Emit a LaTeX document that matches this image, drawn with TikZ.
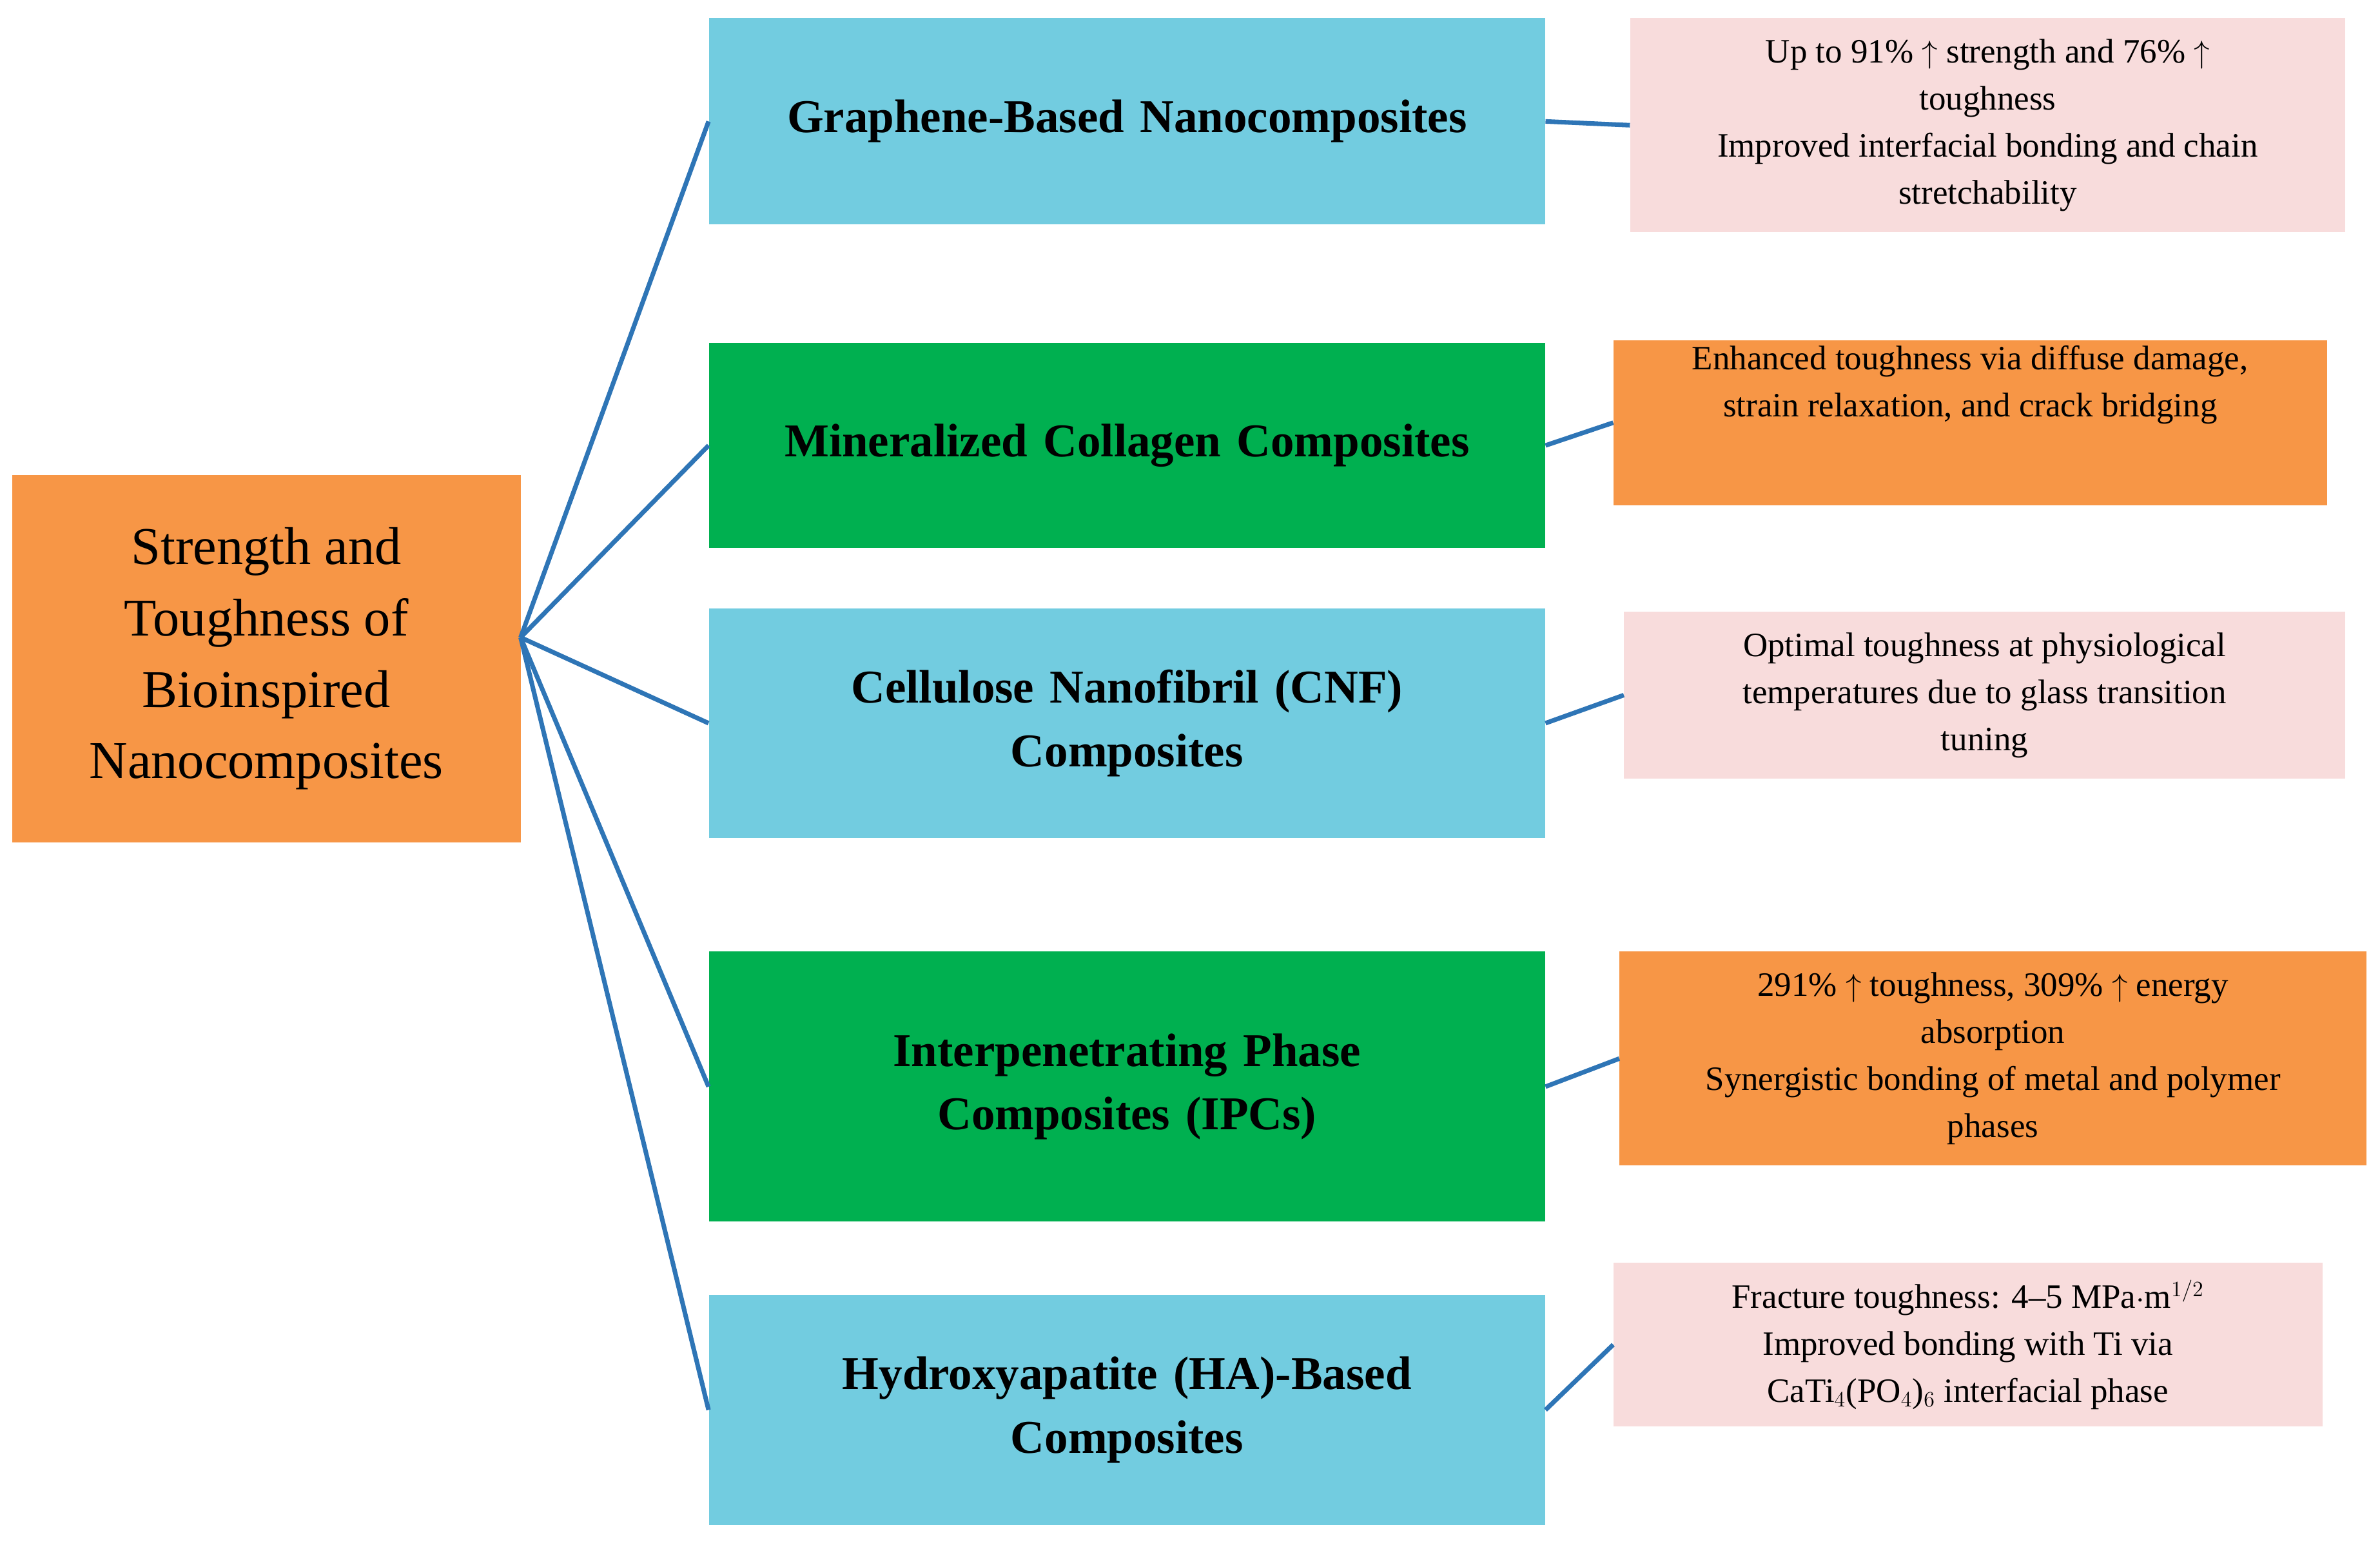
\documentclass[tikz,border=0pt]{standalone}
\usepackage{fontspec}
\setmainfont{Liberation Serif}
\definecolor{rootor}{HTML}{F79646}
\definecolor{cyanbox}{HTML}{72CCE0}
\definecolor{greenbox}{HTML}{00B050}
\definecolor{pinkbox}{HTML}{F8DCDC}
\definecolor{linkblue}{HTML}{2E75B6}
\begin{document}
\begin{tikzpicture}[x=1pt,y=-1pt,
      link/.style={draw=linkblue,line width=3pt},
      mid box/.style={minimum width=551pt,align=center,text width=520pt,
        font=\fontsize{31}{42}\selectfont\bfseries},
      note box/.style={align=center,font=\fontsize{22.5}{31}\selectfont}]
 \useasboundingbox (0,0) rectangle (1568,1018);
 \node[fill=rootor, minimum width=335pt, minimum height=242pt, align=center,
   font=\fontsize{35}{47}\selectfont] (root) at (175.5,434) {Strength and\\Toughness of\\Bioinspired\\Nanocomposites};
 \coordinate (hub) at (343,420);

 \node[mid box, fill=cyanbox, minimum height=136pt] (m1) at (742.5,80) {Graphene-Based Nanocomposites};
 \node[mid box, fill=greenbox, minimum height=135pt] (m2) at (742.5,293.5) {Mineralized Collagen Composites};
 \node[mid box, fill=cyanbox, minimum height=151pt] (m3) at (742.5,476.5) {Cellulose Nanofibril (CNF)\\Composites};
 \node[mid box, fill=greenbox, minimum height=178pt] (m4) at (742.5,716) {Interpenetrating Phase\\Composites (IPCs)};
 \node[mid box, fill=cyanbox, minimum height=152pt] (m5) at (742.5,929) {Hydroxyapatite (HA)-Based\\Composites};

 \node[note box, fill=pinkbox, minimum width=471pt, minimum height=141pt] (r1) at (1309.5,82.5) {Up to 91\% $\uparrow$ strength and 76\% $\uparrow$\\toughness\\Improved interfacial bonding and chain\\stretchability};
 \node[note box, fill=rootor, minimum width=470pt, minimum height=105pt] (r2) at (1298,278.5) {Enhanced toughness via diffuse damage,\\strain relaxation, and crack bridging\\[24pt]};
 \node[note box, fill=pinkbox, minimum width=475pt, minimum height=110pt] (r3) at (1307.5,458) {Optimal toughness at physiological\\temperatures due to glass transition\\tuning};
 \node[note box, fill=rootor, minimum width=492pt, minimum height=141pt] (r4) at (1313,697.5) {291\% $\uparrow$ toughness, 309\% $\uparrow$ energy\\absorption\\Synergistic bonding of metal and polymer\\phases};
 \node[note box, fill=pinkbox, minimum width=467pt, minimum height=108pt] (r5) at (1296.5,886) {Fracture toughness: 4--5 MPa$\cdot$m$^{1/2}$\\Improved bonding with Ti via\\CaTi$_4$(PO$_4$)$_6$ interfacial phase};

 \foreach \i in {1,...,5} {
   \draw[link] (hub) -- (m\i.west);
   \draw[link] (m\i.east) -- (r\i.west);
 }
\end{tikzpicture}
\end{document}
